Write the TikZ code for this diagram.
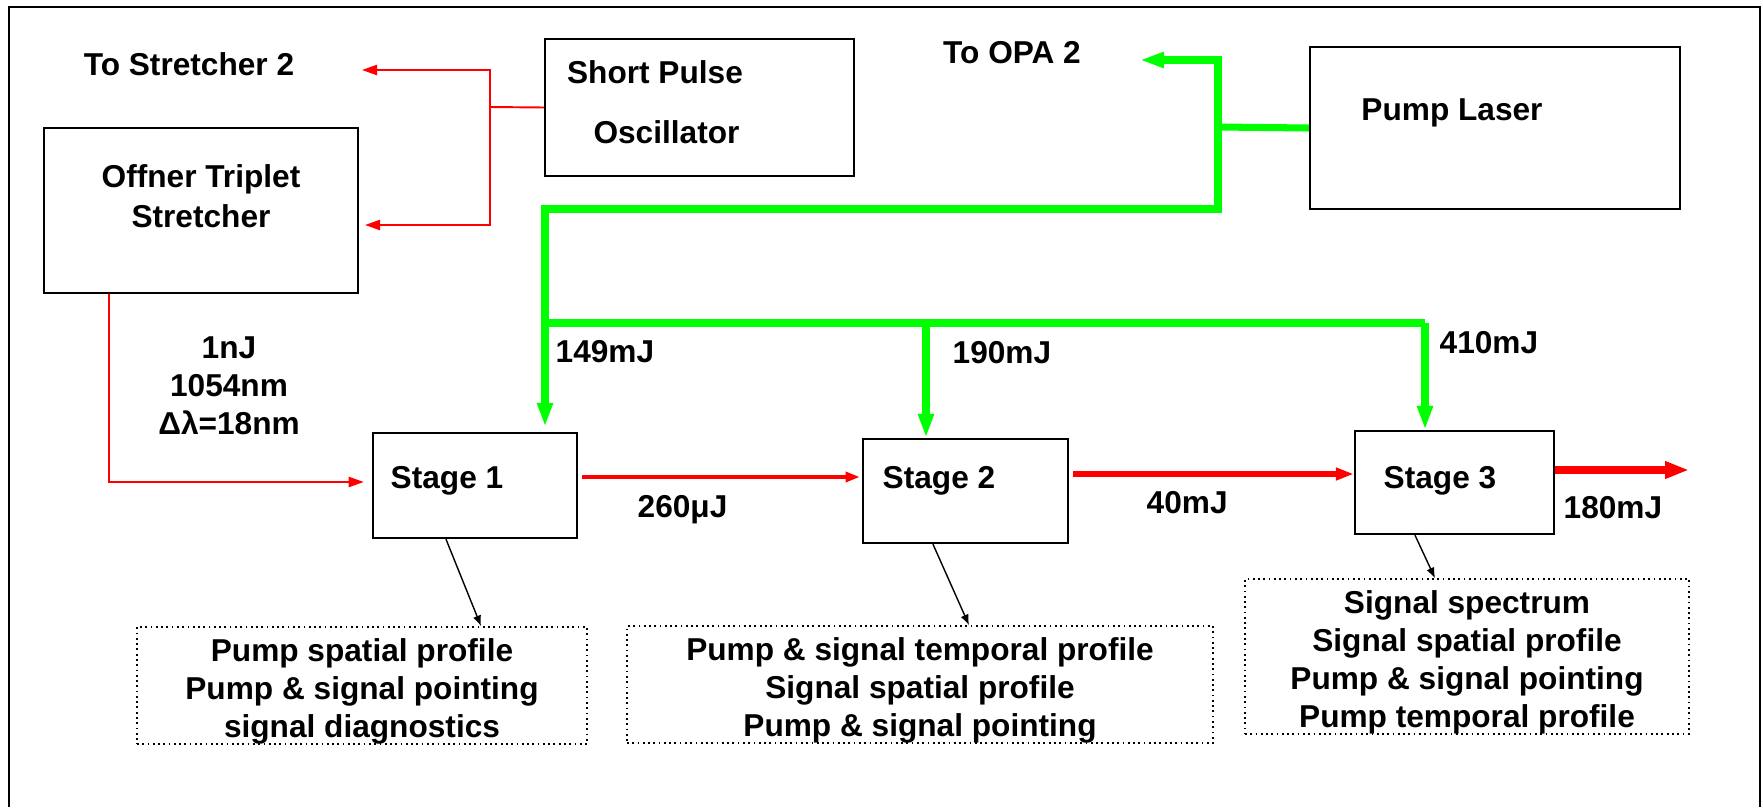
\documentclass[tikz,border=0pt]{standalone}
\usepackage{fontspec}
\setmainfont{Liberation Sans}
\usetikzlibrary{arrows.meta}

\definecolor{beamred}{RGB}{255,0,0}
\definecolor{pumpgreen}{RGB}{0,255,0}

\newcommand{\diagstrut}{\rule{0pt}{9.8pt}}

\begin{document}
\begin{tikzpicture}[every node/.style={font=\bfseries\fontsize{9}{10.8}\selectfont, inner sep=0pt},
    box/.style={draw, line width=0.7pt},
    diag/.style={draw, densely dotted, line width=0.5pt, align=center},
    seedline/.style={draw=beamred, line width=0.55pt},
    seed/.style={seedline, -{Triangle[length=4.3pt, width=2.9pt]}},
    pumpline/.style={draw=pumpgreen, line width=2pt},
    pumparrow/.style={pumpline, -{Triangle[length=6.8pt, width=4.2pt]}},
    probe/.style={line width=0.4pt, -{Latex[length=3pt, width=2.4pt]}}]

        \useasboundingbox (0,0) rectangle (17.63,8.07);

        % outer frame, open at the bottom
        \draw[line width=0.6pt] (0.09,0) -- (0.09,8.00) -- (17.60,8.00) -- (17.60,0);

        \node[box, minimum width=3.09cm, minimum height=1.37cm] (osc) at (6.995,6.995) {};
        \node[box, minimum width=3.14cm, minimum height=1.65cm] (offner) at (2.01,5.965) {};
        \node[box, minimum width=3.70cm, minimum height=1.62cm] (pump) at (14.95,6.79) {};
        \node[box, minimum width=2.04cm, minimum height=1.05cm] (stage1) at (4.75,3.215) {};
        \node[box, minimum width=2.05cm, minimum height=1.04cm] (stage2) at (9.655,3.16) {};
        \node[box, minimum width=1.99cm, minimum height=1.03cm] (stage3) at (14.545,3.245) {};

        \node[anchor=base] (osctop) at (6.55,7.24) {Short Pulse};
        \node[anchor=base] (oscbot) at (6.665,6.64) {Oscillator};
        \node[align=center] (offnertxt) at (2.01,6.11) {Offner Triplet\\[0.6pt]Stretcher};
        \node[anchor=base] (pumptxt) at (14.52,6.87) {Pump Laser};

        \foreach \i/\x in {1/3.90, 2/8.82, 3/13.83} {
          \node[anchor=base west] (stagetxt\i) at (\x,3.19) {Stage \i};
        }

        \node[anchor=base] (tostr) at (1.89,7.32) {To Stretcher 2};
        \node[anchor=base] (toopa) at (10.12,7.44) {To OPA 2};
        \node[align=center] (seedspec) at (2.29,4.21) {1nJ\\1054nm\\Δλ=18nm};

        % pump energies
        \node[anchor=base west] (e1) at (5.55,4.45) {149mJ};
        \node[anchor=base west] (e2) at (9.52,4.44) {190mJ};
        \node[anchor=base west] (e3) at (14.39,4.54) {410mJ};

        % signal energies
        \node[anchor=base west] (s1) at (6.37,2.90) {260μJ};
        \node[anchor=base west] (s2) at (11.46,2.94) {40mJ};
        \node[anchor=base west] (s3) at (15.63,2.89) {180mJ};

        \node[diag, minimum width=4.50cm, minimum height=1.17cm] (diag1) at (3.62,1.215)
          {\diagstrut Pump spatial profile\\Pump \& signal pointing\\signal diagnostics};
        \node[diag, minimum width=5.86cm, minimum height=1.17cm] (diag2) at (9.20,1.225)
          {\diagstrut Pump \& signal temporal profile\\Signal spatial profile\\Pump \& signal pointing};
        \node[diag, minimum width=4.44cm, minimum height=1.53cm] (diag3) at (14.67,1.505)
          {\diagstrut Signal spectrum\\Signal spatial profile\\Pump \& signal pointing\\Pump temporal profile};

        % seed beam
        \coordinate (fork) at (4.90,7.00);
        \coordinate (tostrend) at (3.62,7.37);
        \coordinate (tooffner) at (3.65,5.82);
        \coordinate (outend) at (16.89,3.37);

        \draw[seedline] (osc.west) -- (fork);
        \draw[seed] (fork) |- (tostrend);
        \draw[seed] (fork) |- (tooffner);
        \draw[seed, shorten >=0.08cm] ([xshift=-0.92cm]offner.south) |- ([yshift=1pt]stage1.west);

        \draw[draw=beamred, line width=1.3pt, -{Triangle[length=4pt, width=2.8pt]}, shorten <=0.04cm, shorten >=0.02cm]
          (stage1.east |- 0,3.30) -- (stage2.west |- 0,3.30);
        \draw[draw=beamred, line width=1.7pt, -{Triangle[length=5.1pt, width=3.4pt]}, shorten <=0.04cm]
          (stage2.east |- 0,3.33) -- (stage3.west |- 0,3.33);
        \draw[draw=beamred, line width=2.5pt, -{Triangle[length=6.8pt, width=4.6pt]}]
          (stage3.east |- outend) -- (outend);

        % pump beam
        \coordinate (pj) at (12.18,6.80);
        \coordinate (toopaend) at (11.40,7.47);
        \coordinate (g1) at (5.45,5.98);
        \coordinate (g2) at (5.45,4.84);
        \coordinate (g2m) at (9.26,4.84);
        \coordinate (g3) at (14.25,4.84);

        \draw[pumpline] (pump.west) -- (pj);
        \draw[pumparrow] (pj) |- (toopaend);
        \draw[pumparrow, shorten >=0.05cm] (pj) |- (g1) -- (g1 |- stage1.north);
        \draw[pumpline] (g2) -- (g3);
        \draw[pumparrow] (g2m) -- (g2m |- stage2.north);
        \draw[pumparrow] (g3) -- (g3 |- stage3.north);

        % diagnostics
        \draw[probe] ([xshift=-0.29cm]stage1.south) -- ([xshift=1.19cm]diag1.north);
        \draw[probe] ([xshift=-0.325cm]stage2.south) -- ([xshift=0.49cm]diag2.north);
        \draw[probe] ([xshift=-0.395cm]stage3.south) -- ([xshift=-0.32cm]diag3.north);

      \end{tikzpicture}
\end{document}
